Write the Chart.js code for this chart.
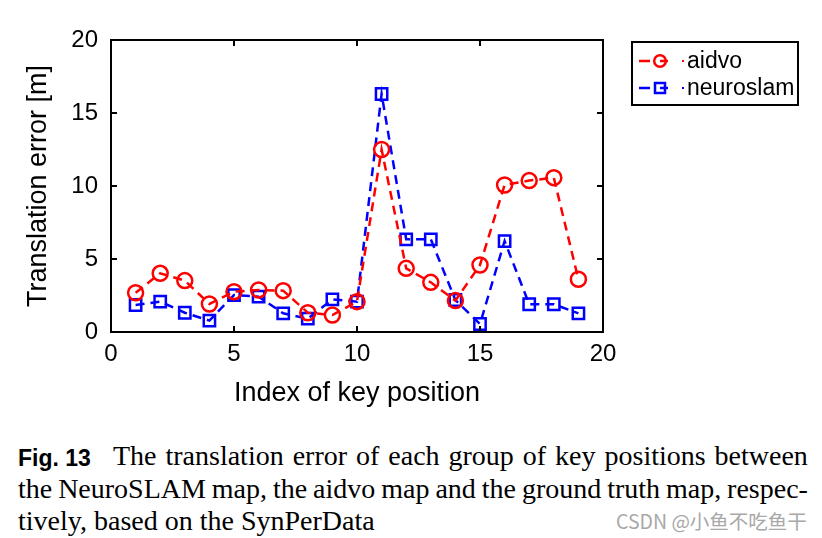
<!DOCTYPE html>
<html>
<head>
<meta charset="utf-8">
<script src="https://cdn.jsdelivr.net/npm/chart.js@4.4.0/dist/chart.umd.min.js"></script>
<style>
  html, body { margin: 0; padding: 0; background: #fff; }
  body { width: 822px; height: 538px; position: relative; overflow: hidden; }
  #wrap { position: absolute; left: 0; top: 0; width: 822px; height: 420px; }
  .cap { position: absolute; left: 18px; width: 790px; font-family: "Liberation Serif", "Times New Roman", serif;
         font-size: 28px; color: #000; white-space: nowrap; line-height: 32px; }
  .just { display: flex; justify-content: space-between; align-items: baseline; }
  .fig { position: absolute; left: 18px; top: 440px; line-height: 32px; font-family: "Liberation Sans", Arial, sans-serif;
         font-weight: bold; font-size: 23px; white-space: nowrap; }
  #wm { position: absolute; left: 616px; top: 507px; font-family: "Noto Sans CJK SC", "Noto Sans", sans-serif;
        font-size: 19.5px; line-height: 28px; color: #a8a8a8; white-space: nowrap; }
</style>
</head>
<body>
<div id="wrap"><canvas id="c" width="822" height="420"></canvas></div>
<div class="fig" style="top:442px;">Fig. 13</div>
<div class="cap" id="l1" style="top:440px; left:113px; width:695px;"></div>
<div class="cap" id="l2" style="top:473px;"></div>
<div class="cap" id="l3" style="top:505px;">tively, based on the SynPerData</div>
<div id="wm">CSDN @小鱼不吃鱼干</div>
<script>
// ---- data ----
const keyIndex = [1, 2, 3, 4, 5, 6, 7, 8, 9, 10, 11, 12, 13, 14, 15, 16, 17, 18, 19];
const aidvo =     [2.69, 4.02, 3.52, 1.92, 2.76, 2.88, 2.83, 1.32, 1.16, 2.08, 12.5, 4.36, 3.40, 2.15, 4.59, 10.07, 10.37, 10.57, 3.61];
const neuroslam = [1.85, 2.08, 1.32, 0.78, 2.53, 2.42, 1.28, 0.91, 2.24, 2.08, 16.3, 6.35, 6.35, 2.19, 0.55, 6.23, 1.90, 1.90, 1.28];
const xTicks = [0, 5, 10, 15, 20];
const yTicks = [0, 5, 10, 15, 20];
const seriesNames = ['aidvo', 'neuroslam'];
const xTitle = 'Index of key position';
const yTitle = 'Translation error [m]';

// caption
const l1 = document.getElementById('l1');
l1.className = 'cap just';
l1.innerHTML = 'The translation error of each group of key positions between'.split(' ').map(w => '<span>' + w + '</span>').join('');
const l2 = document.getElementById('l2');
l2.className = 'cap just';
l2.innerHTML = 'the NeuroSLAM map, the aidvo map and the ground truth map, respec-'.split(' ').map(w => '<span>' + w + '</span>').join('');

const FONT = '"Liberation Sans", Arial, Helvetica, sans-serif';
const RED = '#ff0000', BLUE = '#0000ff';

const frame = {
  id: 'frame',
  afterDatasetsDraw(chart) {
    const ctx = chart.ctx, a = chart.chartArea;
    const xs = chart.scales.x, ys = chart.scales.y;
    ctx.save();
    ctx.strokeStyle = '#000';
    ctx.lineWidth = 2;
    ctx.strokeRect(a.left, a.top, a.right - a.left, a.bottom - a.top);
    const tl = 6;
    ctx.beginPath();
    xTicks.forEach(v => {
      const px = xs.getPixelForValue(v);
      ctx.moveTo(px, a.bottom); ctx.lineTo(px, a.bottom - tl);
      ctx.moveTo(px, a.top); ctx.lineTo(px, a.top + tl);
    });
    yTicks.forEach(v => {
      const py = ys.getPixelForValue(v);
      ctx.moveTo(a.left, py); ctx.lineTo(a.left + tl, py);
      ctx.moveTo(a.right, py); ctx.lineTo(a.right - tl, py);
    });
    ctx.stroke();

    // legend
    const bx = 632, by = 42, bw = 166, bh = 63;
    ctx.lineWidth = 2;
    ctx.strokeRect(bx, by, bw, bh);
    const rows = [
      { name: seriesNames[0], color: RED, shape: 'circle', y: 61 },
      { name: seriesNames[1], color: BLUE, shape: 'rect', y: 88 }
    ];
    rows.forEach(r => {
      ctx.strokeStyle = r.color;
      ctx.fillStyle = r.color;
      ctx.lineWidth = 2.5;
      ctx.beginPath();
      ctx.moveTo(639, r.y); ctx.lineTo(650, r.y);
      ctx.moveTo(660, r.y); ctx.lineTo(668, r.y);
      ctx.stroke();
      ctx.beginPath();
      if (r.shape === 'circle') { ctx.arc(660, r.y, 5.8, 0, Math.PI * 2); }
      else { ctx.rect(655, r.y - 5, 10, 10); }
      ctx.stroke();
      ctx.fillRect(682, r.y - 1, 2, 2);
      ctx.fillStyle = '#000';
      ctx.font = '23px ' + FONT;
      ctx.textBaseline = 'middle';
      ctx.textAlign = 'left';
      ctx.fillText(r.name, 687, r.y + 1);
    });
    ctx.restore();
  }
};

new Chart(document.getElementById('c'), {
  type: 'line',
  data: {
    datasets: [
      {
        label: seriesNames[0],
        data: keyIndex.map((x, i) => ({ x, y: aidvo[i] })),
        borderColor: RED, backgroundColor: 'rgba(0,0,0,0)',
        borderWidth: 2.5, borderDash: [9, 6], tension: 0,
        pointStyle: 'circle', pointRadius: 7.5, pointBorderWidth: 2.5,
        pointBorderColor: RED, pointBackgroundColor: 'rgba(0,0,0,0)'
      },
      {
        label: seriesNames[1],
        data: keyIndex.map((x, i) => ({ x, y: neuroslam[i] })),
        borderColor: BLUE, backgroundColor: 'rgba(0,0,0,0)',
        borderWidth: 2.5, borderDash: [9, 6], tension: 0,
        pointStyle: 'rect', pointRadius: 8, pointBorderWidth: 2.5,
        pointBorderColor: BLUE, pointBackgroundColor: 'rgba(0,0,0,0)'
      }
    ]
  },
  options: {
    responsive: false,
    animation: false,
    events: [],
    layout: { padding: { left: 0, top: 40, right: 219, bottom: 0 } },
    plugins: { legend: { display: false }, tooltip: { enabled: false } },
    scales: {
      x: {
        type: 'linear', min: 0, max: 20,
        afterFit(s) { s.height = 88; },
        afterBuildTicks(s) { s.ticks = xTicks.map(v => ({ value: v })); },
        grid: { display: false, drawTicks: false },
        border: { display: false },
        ticks: { color: '#000', font: { family: FONT, size: 24 }, padding: 8, maxRotation: 0 },
        title: { display: true, text: xTitle, color: '#000', font: { family: FONT, size: 27 }, padding: { top: 0, bottom: 10 } }
      },
      y: {
        type: 'linear', min: 0, max: 20,
        afterFit(s) { s.width = 111; },
        afterBuildTicks(s) { s.ticks = yTicks.map(v => ({ value: v })); },
        grid: { display: false, drawTicks: false },
        border: { display: false },
        ticks: { color: '#000', font: { family: FONT, size: 24 }, padding: 13 },
        title: { display: true, text: yTitle, color: '#000', font: { family: FONT, size: 27 }, padding: { top: 22, bottom: 0 } }
      }
    }
  },
  plugins: [frame]
});
</script>
</body>
</html>
